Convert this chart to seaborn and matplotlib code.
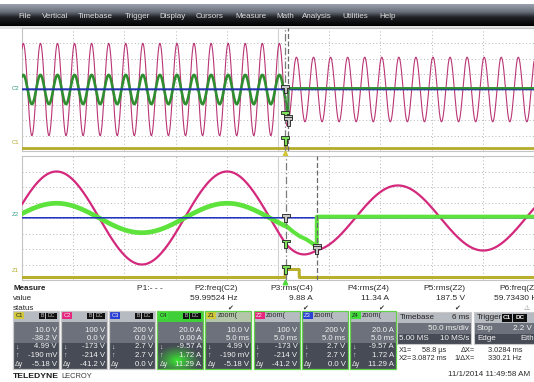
import numpy as np
import matplotlib
matplotlib.use("Agg")
import matplotlib.pyplot as plt
import matplotlib.colors as mcolors
from matplotlib.patches import Rectangle
from matplotlib.path import Path
import seaborn as sns

sns.set_style("white")
plt.rcParams["font.family"] = ["Liberation Sans", "DejaVu Sans"]

# ---------------- acquisition / display settings ----------------
line_freq_hz = 59.99524
main_ms_per_div = 50.0
zoom_ms_per_div = 5.0
trigger_div = 5.14                       # trigger position, divisions from left edge
ch_units_per_div = {"C1": 10.0, "C2": 100.0, "C3": 200.0, "C4": 20.0}
ch_offsets = {"C1": -38.2, "C2": 0.0, "C3": 0.0, "C4": 0.0}

# ---------------- signal levels ----------------
c2_peak_v = [300.0, 210.0]               # line voltage crest before / after the event
c2_crest_ms = -5.66                      # time of a voltage crest
c4_peak_a = 19.0                         # load current crest before the event
c4_event_ms = [0.0588, 0.7, 1.4, 2.0, 2.6, 3.0, 3.0872]
c4_event_a = [-9.57, -17.0, -23.5, -27.0, -32.0, -36.5, -38.5]
c4_after_a = 1.72
c3_level_v = 2.7
c1_levels_v = [-0.19, 4.99]
c1_pulse_ms = [0.0, 1.37]
cursors_ms = [0.0588, 3.0872]

# ---------------- readout texts ----------------
menu_items = ["File", "Vertical", "Timebase", "Trigger", "Display", "Cursors",
              "Measure", "Math", "Analysis", "Utilities", "Help"]
menu_x = [18, 42, 78, 125, 159, 196, 235, 276, 302, 342, 379]

meas_titles = ["P1:- - -", "P2:freq(C2)", "P3:rms(C4)", "P4:rms(Z4)", "P5:rms(Z2)", "P6:freq(Z2)"]
meas_values = ["", "59.99524 Hz", "9.88 A", "11.34 A", "187.5 V", "59.73430 Hz"]
meas_status = ["", "\u2714", "\u2714", "\u2714", "\u2714", "\u26a0"]
meas_right = [163, 238, 313, 389, 465, 542]

box_tags = ["C1", "C2", "C3", "C4", "Z1", "Z2", "Z3", "Z4"]
box_colors = ["#d2c83c", "#e8257e", "#2a3fd6", "#3fdc3a", "#d2c83c", "#e8257e", "#2a3fd6", "#3fdc3a"]
box_scale = ["10.0 V", "100 V", "200 V", "20.0 A", "10.0 V", "100 V", "200 V", "20.0 A"]
box_second = ["-38.2 V", "0.0 V", "0.0 V", "0.00 A", "5.0 ms", "5.0 ms", "5.0 ms", "5.0 ms"]
box_at_x1 = ["4.99 V", "-173 V", "2.7 V", "-9.57 A", "4.99 V", "-173 V", "2.7 V", "-9.57 A"]
box_at_x2 = ["-190 mV", "-214 V", "2.7 V", "1.72 A", "-190 mV", "-214 V", "2.7 V", "1.72 A"]
box_delta = ["-5.18 V", "-41.2 V", "0.0 V", "11.29 A", "-5.18 V", "-41.2 V", "0.0 V", "11.29 A"]


# ---------------- waveforms ----------------
def c2_volts(t):
    amp = np.interp(t, cursors_ms, c2_peak_v)
    return amp * np.cos(2 * np.pi * line_freq_hz * (t - c2_crest_ms) / 1000.0)


def c4_amps(t):
    before = c4_peak_a * np.cos(2 * np.pi * line_freq_hz * (t - c2_crest_ms) / 1000.0)
    during = np.interp(t, c4_event_ms, c4_event_a)
    return np.where(t < c4_event_ms[0], before,
                    np.where(t <= c4_event_ms[-1], during, c4_after_a))


def c3_volts(t):
    return np.full_like(t, c3_level_v)


def c1_volts(t):
    inside = (t >= c1_pulse_ms[0]) & (t < c1_pulse_ms[1])
    return np.where(inside, c1_levels_v[1], c1_levels_v[0])


def to_div(values, ch):
    return (values + ch_offsets[ch]) / ch_units_per_div[ch]


# ---------------- figure & pixel canvas ----------------
W, H = 534, 382
fig = plt.figure(figsize=(W / 100, H / 100), dpi=100)
bg = fig.add_axes([0, 0, 1, 1])
bg.set_xlim(0, W)
bg.set_ylim(H, 0)
bg.axis("off")


def rect_px(x0, y0, x1, y1):
    return [x0 / W, 1 - y1 / H, (x1 - x0) / W, (y1 - y0) / H]


def txt(x, y, s, size=5.8, color="#f2f2f2", ha="left", weight="normal", **kw):
    return bg.text(x, y, s, fontsize=size, color=color, ha=ha, va="center",
                   fontweight=weight, **kw)


# menu bar
menu_cmap = mcolors.LinearSegmentedColormap.from_list(
    "menu", [(0, "#9aa0ad"), (0.35, "#6a707b"), (0.6, "#202226"), (1, "#000000")])
bg.imshow(np.linspace(0, 1, 64)[:, None], cmap=menu_cmap, aspect="auto",
          extent=(0, W, 26, 4), zorder=0)
bg.add_patch(Rectangle((0, 26), W, 2.5, fc="#e4e4e4", ec="none"))
for name, x in zip(menu_items, menu_x):
    txt(x, 16, name, size=5.8, color="#dcdcdc")

# ---------------- scope grids ----------------
ax_main = fig.add_axes(rect_px(22, 28, 534, 151))
ax_zoom = fig.add_axes(rect_px(22, 156, 534, 280))

pin = Path([(-1, 1), (1, 1), (1, 0.3), (0.35, 0.3), (0.35, -1), (-0.35, -1),
            (-0.35, 0.3), (-1, 0.3), (-1, 1)],
           [Path.MOVETO] + [Path.LINETO] * 7 + [Path.CLOSEPOLY])

styles = {
    "main": dict(pink=("#b93676", 0.8), green=("#2f8f2f", 1.9), blue=("#1d2fb0", 1.4),
                 yellow=("#b3ab2a", 2.0)),
    "zoom": dict(pink=("#d3287c", 1.6), green=("#5ee23c", 3.4), blue=("#1d2fc0", 1.1),
                 yellow=("#b8b02c", 2.2)),
}

for ax, ms_div, key in [(ax_main, main_ms_per_div, "main"), (ax_zoom, zoom_ms_per_div, "zoom")]:
    st = styles[key]
    t_left = -trigger_div * ms_div
    t_right = t_left + 10 * ms_div
    t = np.linspace(t_left, t_right, 12000 if key == "main" else 4000)
    pre = t < cursors_ms[0]
    post = ~pre

    sns.lineplot(x=t, y=to_div(c2_volts(t), "C2"), ax=ax, color=st["pink"][0],
                 linewidth=st["pink"][1], estimator=None, sort=False, zorder=3)
    sns.lineplot(x=t[pre], y=to_div(c4_amps(t[pre]), "C4"), ax=ax, color=st["green"][0],
                 linewidth=st["green"][1], estimator=None, sort=False, zorder=3.2)
    sns.lineplot(x=t, y=to_div(c3_volts(t), "C3"), ax=ax, color=st["blue"][0],
                 linewidth=st["blue"][1], estimator=None, sort=False, zorder=3.4)
    sns.lineplot(x=t[post], y=to_div(c4_amps(t[post]), "C4"), ax=ax, color=st["green"][0],
                 linewidth=st["green"][1] * 0.85, estimator=None, sort=False, zorder=3.6)
    sns.lineplot(x=t, y=to_div(c1_volts(t), "C1"), ax=ax, color=st["yellow"][0],
                 linewidth=st["yellow"][1], estimator=None, sort=False, zorder=3.8)

    ax.set_xlim(t_left, t_right)
    ax.set_ylim(-4, 4)
    ax.set_xticks(t_left + ms_div * np.arange(11))
    ax.set_yticks(np.arange(-4, 5))
    ax.tick_params(length=0, labelbottom=False, labelleft=False)
    ax.set_xlabel("")
    ax.set_ylabel("")
    ax.grid(True, color="#b4b4b4", linestyle=(0, (1, 2.5)), linewidth=0.7)
    ax.axvline(t_left + 5 * ms_div, color="#d2d2d2", lw=0.8, zorder=1)
    for sp in ax.spines.values():
        sp.set_color("#c4c4c4")
        sp.set_linewidth(0.8)

    # cursors
    ax.axvline(cursors_ms[0], color="#7c7c7c", ls=(0, (6, 2, 1, 2)), lw=0.9, zorder=4)
    ax.axvline(cursors_ms[1], color="#6a6a6a", ls=(0, (4, 2)), lw=0.9, zorder=4)

    x1 = np.array([cursors_ms[0]])
    x2 = np.array([cursors_ms[1]])
    ax.scatter([cursors_ms[0]] * 3,
               [to_div(c3_volts(x1), "C3")[0], to_div(c2_volts(x1), "C2")[0],
                to_div(c1_volts(x1), "C1")[0]],
               marker=pin, s=36, c=["#c8c8c8", "#7fe05c", "#7fe05c"], edgecolors="#202020",
               linewidths=0.6, zorder=6, clip_on=False)
    ax.scatter([cursors_ms[1]] * 2,
               [to_div(c4_amps(x2), "C4")[0], to_div(c2_volts(x2), "C2")[0]],
               marker=pin, s=36, c=["#c8c8c8", "#c8c8c8"], edgecolors="#202020",
               linewidths=0.6, zorder=6, clip_on=False)

# trigger arrows under the grids
ax_main.scatter([0], [-4.15], marker="^", s=10, color="#d4c634", clip_on=False, zorder=7)
ax_zoom.scatter([0], [-4.15], marker="^", s=10, color="#4fd83a", clip_on=False, zorder=7)

# channel labels left of the grids
txt(12, 88, "C2", size=4.3, color="#2f9c84")
txt(12, 142, "C1", size=4.3, color="#b3ab2a")
txt(12, 215, "Z2", size=4.3, color="#2f9c84")
txt(12, 270, "Z1", size=4.3, color="#b3ab2a")

# ---------------- measurement table ----------------
txt(13, 289, "Measure", size=5.8, color="#1e1e1e", weight="bold")
txt(13, 299, "value", size=5.8, color="#2a2a2a")
txt(13, 308, "status", size=5.8, color="#2a2a2a")
for title, val, stat, xr in zip(meas_titles, meas_values, meas_status, meas_right):
    txt(xr, 289, title, size=6.0, color="#2a2a2a", ha="right")
    if val:
        txt(xr, 299, val, size=6.0, color="#2a2a2a", ha="right")
    if stat:
        txt(xr - 5 if stat == "\u2714" else xr - 12, 308, stat, size=5.0,
            color="#333333" if stat == "\u2714" else "#8a8a8a", ha="right")

# ---------------- channel descriptor boxes ----------------
row_y = [330, 338.5, 347, 355.5, 364]
for i, tag in enumerate(box_tags):
    x0 = 13 + i * 48.1
    w = 46
    x1 = x0 + w
    is_zoom = tag.startswith("Z")
    selected = i >= 3
    head_fc = "#3fcf38" if tag == "C4" else ("#b3c6aa" if tag == "Z1" else "#b6bac1")
    bg.add_patch(Rectangle((x0, 311), w, 11, fc=head_fc, ec="none"))
    bg.add_patch(Rectangle((x0, 322), w, 20.5, fc="#6c717b", ec="none"))
    bg.add_patch(Rectangle((x0, 342.5), w, 26.5, fc="#464b55", ec="none"))
    if tag == "C4":
        yy, xx = np.mgrid[0:47, 0:46]
        d = np.hypot((xx - 20) / 24.0, (yy - 38) / 16.0)
        alpha = np.clip(1.0 - d, 0, 1) ** 1.2 * 0.95
        glow = np.zeros((47, 46, 4))
        glow[..., 0], glow[..., 1], glow[..., 2] = 0.22, 0.95, 0.18
        glow[..., 3] = alpha
        bg.imshow(glow, extent=(x0, x1, 369, 322), aspect="auto", zorder=1.5,
                  interpolation="bilinear")
    bg.add_patch(Rectangle((x0, 311), w, 58, fc="none",
                           ec="#62d24a" if selected else "#c9c9c9", lw=0.9, zorder=3))
    # label tag
    bg.add_patch(Rectangle((x0 + 1, 312), 10, 7, fc=box_colors[i], ec="none", zorder=2))
    txt(x0 + 6, 315.6, tag, size=4.2, ha="center",
        color="#222222" if tag in ("C1", "C4", "Z1", "Z4") else "#f0f0f0", zorder=2.5)
    if is_zoom:
        txt(x0 + 12.5, 315.8, "zoom(", size=5.2, color="#2a2a2a", zorder=2.5)
    else:
        bg.add_patch(Rectangle((x0 + 26, 312.5), 6, 6.5, fc="#111111", ec="none", zorder=2))
        bg.add_patch(Rectangle((x0 + 33, 312.5), 11, 6.5, fc="#111111", ec="none", zorder=2))
        txt(x0 + 29, 315.8, "B", size=3.8, ha="center", color="#cfcfcf", zorder=2.5)
        txt(x0 + 38.5, 315.8, "DC", size=3.8, ha="center", color="#cfcfcf", zorder=2.5)
    vals = [box_scale[i], box_second[i], box_at_x1[i], box_at_x2[i], box_delta[i]]
    for y, v in zip(row_y, vals):
        txt(x1 - 2, y, v, size=5.6, ha="right", zorder=2.5)
    for y, sym in zip(row_y[2:], ["\u2193", "\u2191", "\u0394y"]):
        txt(x0 + 2, y, sym, size=5.0, color="#e6e6e6", zorder=2.5)

# timebase box
tb_x0, tb_w = 397, 74
bg.add_patch(Rectangle((tb_x0, 312), tb_w, 11, fc="#b6bac1", ec="none"))
bg.add_patch(Rectangle((tb_x0, 323), tb_w, 10.5, fc="#6c717b", ec="none"))
bg.add_patch(Rectangle((tb_x0, 333.5), tb_w, 10.5, fc="#464b55", ec="none"))
bg.add_patch(Rectangle((tb_x0, 312), tb_w, 32, fc="none", ec="#c9c9c9", lw=0.8))
txt(tb_x0 + 3, 317.5, "Timebase", size=5.8, color="#222222")
txt(tb_x0 + tb_w - 2, 317.5, "6 ms", size=5.8, color="#222222", ha="right")
txt(tb_x0 + tb_w - 2, 328.5, "50.0 ms/div", size=5.8, ha="right")
txt(tb_x0 + 2, 339, "5.00 MS", size=5.8)
txt(tb_x0 + tb_w - 2, 339, "10 MS/s", size=5.8, ha="right")

# trigger box
tr_x0, tr_w = 474, 64
bg.add_patch(Rectangle((tr_x0, 312), tr_w, 11, fc="#b6bac1", ec="none"))
bg.add_patch(Rectangle((tr_x0, 323), tr_w, 10.5, fc="#6c717b", ec="none"))
bg.add_patch(Rectangle((tr_x0, 333.5), tr_w, 10.5, fc="#464b55", ec="none"))
bg.add_patch(Rectangle((tr_x0, 312), tr_w, 32, fc="none", ec="#c9c9c9", lw=0.8))
txt(tr_x0 + 3, 317.5, "Trigger", size=5.8, color="#222222")
bg.add_patch(Rectangle((tr_x0 + 28, 313.5), 10, 8, fc="#0d0d0d", ec="none"))
bg.add_patch(Rectangle((tr_x0 + 39, 313.5), 14, 8, fc="#0d0d0d", ec="none"))
txt(tr_x0 + 33, 317.5, "C1", size=4.6, color="#f0f0f0", ha="center", weight="bold")
txt(tr_x0 + 46, 317.5, "DC", size=4.6, color="#f0f0f0", ha="center", weight="bold")
txt(tr_x0 + 3, 328.5, "Stop", size=5.8)
txt(tr_x0 + tr_w - 6, 328.5, "2.2 V", size=5.8, ha="right")
txt(tr_x0 + 3, 339, "Edge", size=5.8)
txt(tr_x0 + tr_w + 3, 339, "Either", size=5.8, ha="right")

# cursor readouts
cur_size = 5.3
txt(399, 350, "X1=", size=cur_size, color="#2a2a2a")
txt(446, 350, "58.8 \u00b5s", size=cur_size, color="#2a2a2a", ha="right")
txt(475, 350, "\u0394X=", size=cur_size, color="#2a2a2a", ha="right")
txt(522, 350, "3.0284 ms", size=cur_size, color="#2a2a2a", ha="right")
txt(399, 358.5, "X2=", size=cur_size, color="#2a2a2a")
txt(447, 358.5, "3.0872 ms", size=cur_size, color="#2a2a2a", ha="right")
txt(475, 358.5, "1/\u0394X=", size=cur_size, color="#2a2a2a", ha="right")
txt(522, 358.5, "330.21 Hz", size=cur_size, color="#2a2a2a", ha="right")

# branding and timestamp
txt(13, 376, "TELEDYNE", size=6.1, color="#1a1a1a", weight="bold")
txt(61, 376, "LECROY", size=5.4, color="#3a3a3a")
txt(530, 375, "11/1/2014 11:49:58 AM", size=5.8, color="#2a2a2a", ha="right")

fig.savefig("out.png", dpi=100, facecolor="white")
